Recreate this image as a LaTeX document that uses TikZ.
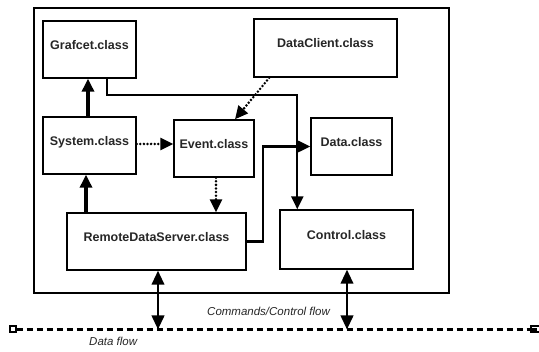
\documentclass[tikz,border=0pt]{standalone}
\usepackage{fontspec}
\setmainfont{Liberation Sans}
\usetikzlibrary{arrows.meta,calc}
\begin{document}
\begin{tikzpicture}[x=1pt,y=-1pt,
  box/.style={draw,line width=1.4pt,rectangle,inner sep=0pt,text height=0pt,text depth=0pt,
    font=\fontsize{12.5}{14}\selectfont\bfseries,text=black!85},
  flow/.style={font=\fontsize{11.5}{13}\selectfont\itshape,inner sep=0pt,anchor=base west,text=black!85},
  tip/.style={-{Triangle[length=13pt,width=12pt]}},
  thickarr/.style={tip,line width=3.4pt},
  medarr/.style={tip,line width=2.3pt},
  dotarr/.style={tip,line width=2.8pt,line cap=round,dash pattern=on 0pt off 3.6pt},
  dblarr/.style={{Triangle[length=14pt,width=12.5pt]}-{Triangle[length=14pt,width=12.5pt]},line width=2.3pt},
  endsq/.style={draw,line width=2pt,fill=white,minimum size=6pt,inner sep=0pt},
  bus/.style={line width=2.2pt,dash pattern=on 6pt off 4pt}
]
\useasboundingbox (0,0) rectangle (539,352);

\node[box,minimum width=415pt,minimum height=285pt] (outer) at (241.5,150.5) {};

\node[box,minimum width=93pt,minimum height=57pt] (g) at (89.5,49.5) {Grafcet.class};
\node[box,minimum width=143pt,minimum height=58pt] (dc) at (325.5,48) {DataClient.class};
\node[box,minimum width=93pt,minimum height=57pt] (s) at (89.5,145.5) {System.class};
\node[box,minimum width=80pt,minimum height=57pt] (e) at (214,148.5) {Event.class};
\node[box,minimum width=81pt,minimum height=57pt] (d) at (351.5,146.5) {Data.class};
\node[box,minimum width=179pt,minimum height=57pt] (r) at (156.5,241.5) {RemoteDataServer.class};
\node[box,minimum width=133pt,minimum height=59pt] (c) at (346.5,239.5) {Control.class};

% arrows
\draw[thickarr] ([xshift=-1.5pt]s.north) -- ([xshift=-1.5pt]g.south);
\draw[thickarr] ([xshift=-3.5pt]s.south |- r.north) -- ([xshift=-3.5pt]s.south);
\draw[dotarr] ([yshift=1.5pt]s.east) -- ([yshift=1.5pt]s.east -| e.west);
\draw[dotarr] ([xshift=16pt]dc.south west) -- ([xshift=21pt]e.north);
\draw[dotarr] ([xshift=2pt]e.south) -- ([xshift=2pt]e.south |- r.north);
\draw[medarr] ([xshift=17.5pt]g.south) -- ++(0,16) -| ([xshift=18pt]c.north west);
\draw[medarr] (r.east) -- ++(16,0) |- (d.west);

% bus
\node[endsq] (L) at (12.5,329.5) {};
\coordinate (R) at (531,329.5);
\draw[bus] (L.east) -- (R);
\draw[line width=2pt] (539,326.5) -- (531,326.5) -- (531,332.5) -- (539,332.5);
\draw[line width=2.2pt] (R) -- (537,329.5);

\draw[dblarr] ([xshift=1.5pt]r.south) -- ([xshift=1.5pt]r.south |- L);
\draw[dblarr] ([xshift=0.5pt]c.south) -- ([xshift=0.5pt]c.south |- L);

\node[flow] (cmd) at (207,316) {Commands/Control flow};
\node[flow] (df) at (89,346) {Data flow};
\end{tikzpicture}
\end{document}
